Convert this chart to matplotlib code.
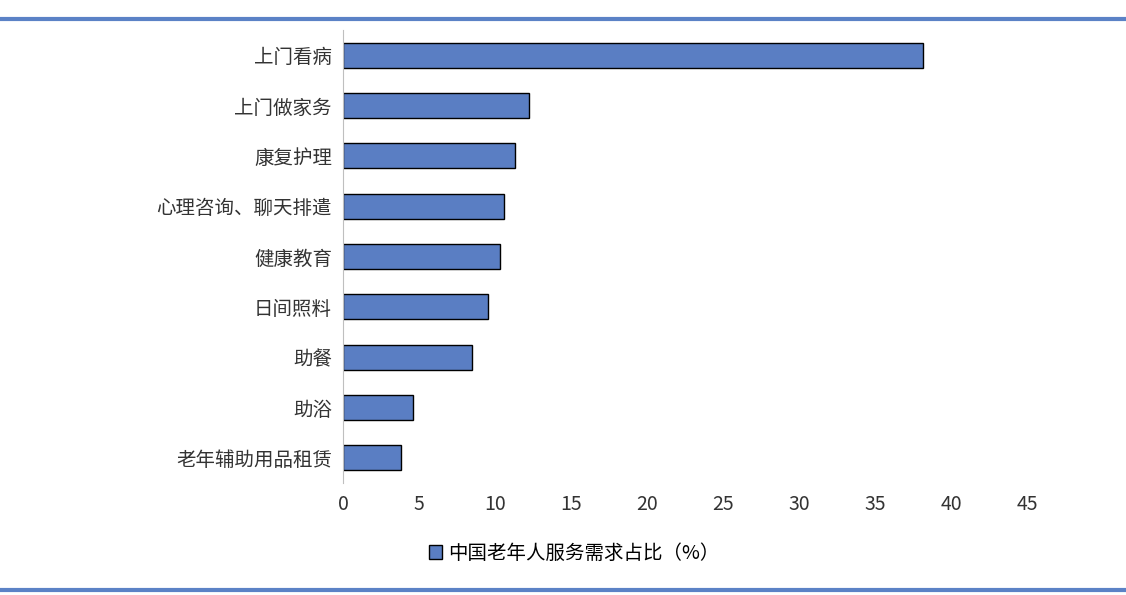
import matplotlib.pyplot as plt
from matplotlib.lines import Line2D

plt.rcParams['font.family'] = ['Noto Sans CJK SC', 'DejaVu Sans']

categories = ["上门看病", "上门做家务", "康复护理", "心理咨询、聊天排遣", "健康教育",
              "日间照料", "助餐", "助浴", "老年辅助用品租赁"]
values = [38.1, 12.2, 11.3, 10.6, 10.3, 9.5, 8.5, 4.6, 3.8]
ticks = [0, 5, 10, 15, 20, 25, 30, 35, 40, 45]

fig = plt.figure(figsize=(11.26, 5.95), dpi=100)
ax = fig.add_axes([343/1126, 1-483/595, (1040-343)/1126, (483-30)/595])

y = list(range(len(categories)))[::-1]
ax.barh(y, values, height=0.5, color="#5A7EC3", edgecolor="black", linewidth=1)
ax.set_yticks(y)
ax.set_yticklabels(categories, fontsize=14, color="#333333")
ax.set_xticks(ticks)
ax.set_xticklabels([str(t) for t in ticks], fontsize=14, color="#333333")
ax.set_xlim(0, 45.8)
ax.set_ylim(-0.5, len(categories) - 0.5)
ax.tick_params(length=0, pad=8)
for s in ["top", "right", "bottom"]:
    ax.spines[s].set_visible(False)
ax.spines["left"].set_color("#BFBFBF")

fig.legend(handles=[plt.Rectangle((0, 0), 1, 1, facecolor="#5A7EC3", edgecolor="black")],
           labels=["中国老年人服务需求占比（%）"], loc="center", bbox_to_anchor=(0.51, 1-553/595),
           frameon=False, fontsize=14, handlelength=0.7, handleheight=0.7, handletextpad=0.3)

for yy in [19, 590]:
    fig.add_artist(Line2D([0, 1], [1-yy/595]*2, color="#5B82C6", linewidth=3))

fig.savefig("out.png")
